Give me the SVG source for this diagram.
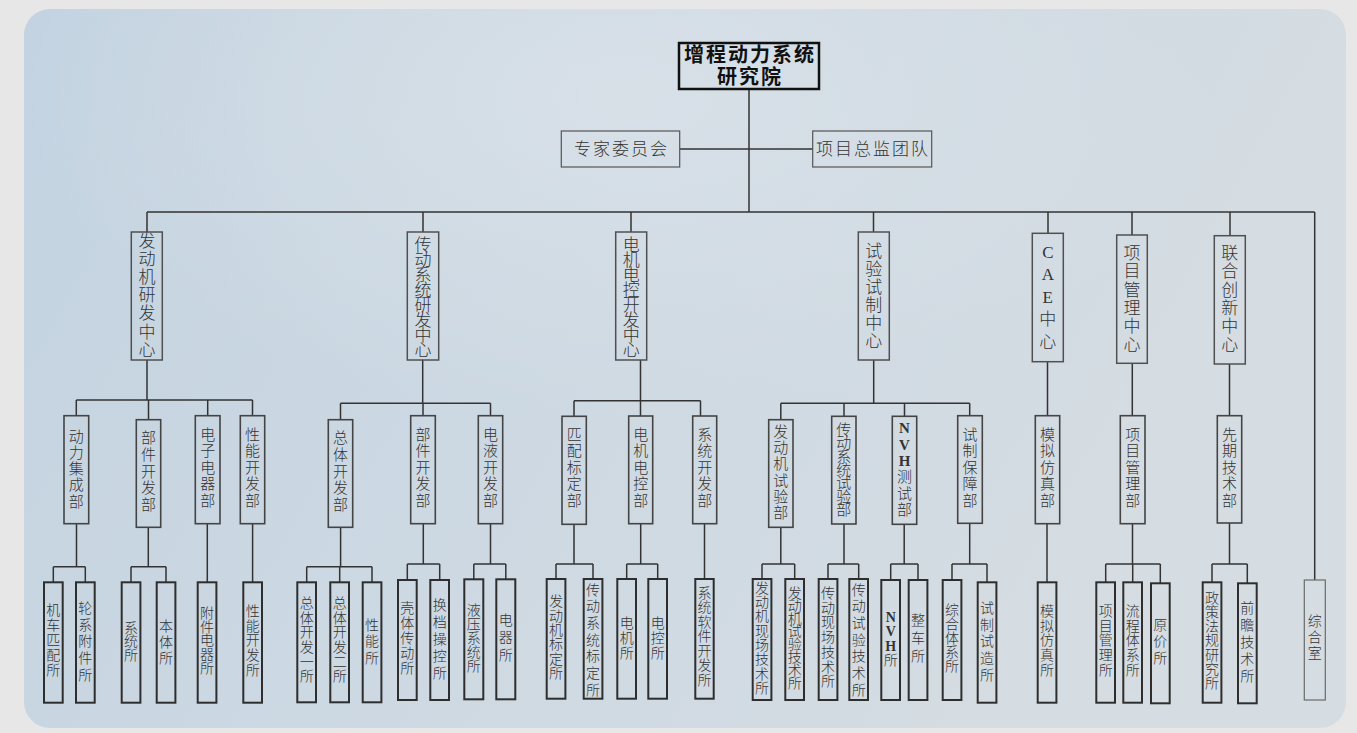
<svg xmlns="http://www.w3.org/2000/svg" width="1357" height="733" viewBox="0 0 1357 733">
<defs>
<linearGradient id="bg" x1="0" y1="0" x2="1" y2="0.3">
<stop offset="0" stop-color="#c3d3e1"/>
<stop offset="0.45" stop-color="#ccd8e2"/>
<stop offset="1" stop-color="#d6dde2"/>
</linearGradient>
<radialGradient id="glow" cx="0.45" cy="0.12" r="0.45">
<stop offset="0" stop-color="#dde4ea" stop-opacity="0.7"/>
<stop offset="1" stop-color="#dde4ea" stop-opacity="0"/>
</radialGradient>
<style>
text{font-family:"Liberation Serif","Noto Sans CJK SC",serif;fill:#333;text-anchor:middle;dominant-baseline:central;font-weight:300}
.t0{font-size:20px;font-weight:700;fill:#111;letter-spacing:2px}
.t1{font-size:17px}
.t2{font-size:15px}
.t3{font-size:14px}
.ts{font-size:17px;letter-spacing:2px}
.b{font-weight:700}
.r0{fill:none;stroke:#111;stroke-width:2.5}
.rs{fill:none;stroke:#555;stroke-width:1.2}
.r1{fill:none;stroke:#505050;stroke-width:1.5}
.r2{fill:none;stroke:#444;stroke-width:1.6}
.r3{fill:none;stroke:#2e2e2e;stroke-width:2}
.rt{fill:none;stroke:#6a6a6a;stroke-width:1.2}
.c{fill:none;stroke:#333;stroke-width:1.5}
</style>
</defs>
<rect width="1357" height="733" fill="#e8e7e7"/>
<rect x="24" y="9" width="1322" height="719" rx="26" fill="url(#bg)"/>
<rect x="24" y="9" width="1322" height="719" rx="26" fill="url(#glow)"/>

<g id="connectors" class="c">
<path d="M749 89V212M680 149H813M147 212H1314.7M147 212V232M423 212V232M631 212V232M873.5 212V232M1048 212V233.3M1132 212V235M1230 212V235.7M1314.7 212V580"/>
<path d="M147 360V400M76.3 400H252.5M76.3 400V415.7M148.5 400V419.7M207.7 400V415.7M252.5 400V415.7"/>
<path d="M422.7 360V403.3M340.5 403.3H490.5M340.5 403.3V419.7M423 403.3V415.7M490.5 403.3V415.7"/>
<path d="M640.5 360V400.7M574 400.7H700.5M574 400.7V416.3M640.5 400.7V416M700.5 400.7V416"/>
<path d="M873.7 360V403.3M780.8 403.3H969.7M780.8 403.3V419.7M844 403.3V416.3M904.5 403.3V416.3M969.7 403.3V415.7"/>
<path d="M1047.5 361.7V415.7M1132.3 363.3V415.7M1229.5 364V415.7"/>
<path d="M76.5 523.7V566.7M53.3 566.7H85.3M53.3 566.7V582.3M85.3 566.7V582.3"/>
<path d="M148.3 527.3V566.7M131 566.7H166M131 566.7V582.3M166 566.7V582.3"/>
<path d="M207.3 523.7V582.3M252.6 523.7V582.3"/>
<path d="M340.6 527.3V566.7M306.7 566.7H372M306.7 566.7V582.3M339.7 566.7V582.3M372 566.7V582.3"/>
<path d="M423.3 523.7V564M407.3 564H439.7M407.3 564V580M439.7 564V580"/>
<path d="M490.5 523.7V564M473.8 564H505.8M473.8 564V579.3M505.8 564V579.3"/>
<path d="M574 524.3V564M556 564H593M556 564V579M593 564V579"/>
<path d="M640.7 523.7V564M626.7 564H657.7M626.7 564V579M657.7 564V579"/>
<path d="M704.5 523.7V579"/>
<path d="M780.8 527.3V564M762 564H794.7M762 564V579M794.7 564V579"/>
<path d="M844 524V564M828 564H858.7M828 564V579M858.7 564V579"/>
<path d="M904.2 524.3V564M890.7 564H918M890.7 564V580M918 564V580"/>
<path d="M969.7 523.3V564M952 564H987M952 564V580M987 564V582.3"/>
<path d="M1047 523.7V582.3"/>
<path d="M1132.5 523.7V564M1105.7 564H1160.3M1105.7 564V582.3M1132.7 564V582.3M1160.3 564V583.3"/>
<path d="M1229.5 523V564M1212 564H1247.3M1212 564V582.3M1247.3 564V583.3"/>
</g>

<g id="n-root"><rect class="r0" x="679" y="43" width="140" height="46"/><text class="t0" x="750" y="55">增程动力系统</text><text class="t0" x="750" y="77">研究院</text></g>
<g id="n-expert"><rect class="rs" x="561.3" y="131" width="118.4" height="36"/><text class="ts" x="621.5" y="149">专家委员会</text></g>
<g id="n-pm"><rect class="rs" x="812.7" y="131" width="119" height="36"/><text class="ts" x="873" y="149">项目总监团队</text></g>

<g id="n-c1"><rect class="r1" x="131.3" y="232" width="31" height="128"/><text class="t1" x="147 147 147 147 147 147 147" y="241.7 259.8 277.8 295.9 313.9 332 350">发动机研发中心</text></g>
<g id="n-c2"><rect class="r1" x="407.3" y="232" width="31.4" height="128"/><text class="t1" x="423 423 423 423 423 423 423 423" y="245 260 275 290 305 320 335 350">传动系统研发中心</text></g>
<g id="n-c3"><rect class="r1" x="615.7" y="232" width="31" height="128"/><text class="t1" x="631.2 631.2 631.2 631.2 631.2 631.2 631.2 631.2" y="245 260 275 290 305 320 335 350">电机电控开发中心</text></g>
<g id="n-c4"><rect class="r1" x="858.3" y="232" width="31" height="128"/><text class="t1" x="873.8 873.8 873.8 873.8 873.8 873.8" y="251.7 269.7 287.7 305.7 323.7 341.7">试验试制中心</text></g>
<g id="n-c5"><rect class="r1" x="1032.3" y="233.3" width="31" height="128.4"/><text class="t1" x="1047.8 1047.8 1047.8 1047.8 1047.8" y="252 274.5 297 319.5 342">CAE中心</text></g>
<g id="n-c6"><rect class="r1" x="1116.7" y="235" width="30.6" height="128.3"/><text class="t1" x="1132 1132 1132 1132 1132 1132" y="253.3 271.7 290 308.4 326.7 345">项目管理中心</text></g>
<g id="n-c7"><rect class="r1" x="1214.3" y="235.7" width="31" height="128.3"/><text class="t1" x="1229.8 1229.8 1229.8 1229.8 1229.8 1229.8" y="253.3 271.7 290 308.4 326.7 345">联合创新中心</text></g>

<g id="n-d1"><rect class="r2" x="64" y="415.7" width="24.7" height="108"/><text class="t2" x="76.3 76.3 76.3 76.3 76.3" y="436.7 452.9 469.2 485.4 501.7">动力集成部</text></g>
<g id="n-d2"><rect class="r2" x="136.3" y="419.7" width="24.4" height="107.6"/><text class="t2" x="148.5 148.5 148.5 148.5 148.5" y="438.3 455 471.7 488.3 505">部件开发部</text></g>
<g id="n-d3"><rect class="r2" x="195.3" y="415.7" width="24.7" height="108"/><text class="t2" x="207.7 207.7 207.7 207.7 207.7" y="435 451.4 467.8 484.3 500.7">电子电器部</text></g>
<g id="n-d4"><rect class="r2" x="240.3" y="415.7" width="24.4" height="108"/><text class="t2" x="252.5 252.5 252.5 252.5 252.5" y="435 451.4 467.8 484.3 500.7">性能开发部</text></g>
<g id="n-d5"><rect class="r2" x="328.3" y="419.7" width="24.4" height="107.6"/><text class="t2" x="340.5 340.5 340.5 340.5 340.5" y="438.3 455 471.7 488.3 505">总体开发部</text></g>
<g id="n-d6"><rect class="r2" x="410.7" y="415.7" width="24.6" height="108"/><text class="t2" x="423 423 423 423 423" y="435 451.4 467.8 484.3 500.7">部件开发部</text></g>
<g id="n-d7"><rect class="r2" x="478.3" y="415.7" width="24.4" height="108"/><text class="t2" x="490.5 490.5 490.5 490.5 490.5" y="435 451.4 467.8 484.3 500.7">电液开发部</text></g>
<g id="n-d8"><rect class="r2" x="562" y="416.3" width="24.3" height="108"/><text class="t2" x="574.2 574.2 574.2 574.2 574.2" y="435 451.4 467.8 484.3 500.7">匹配标定部</text></g>
<g id="n-d9"><rect class="r2" x="628.7" y="416" width="24" height="107.7"/><text class="t2" x="640.7 640.7 640.7 640.7 640.7" y="435 451.4 467.8 484.3 500.7">电机电控部</text></g>
<g id="n-d10"><rect class="r2" x="692.7" y="416" width="24" height="107.7"/><text class="t2" x="704.7 704.7 704.7 704.7 704.7" y="435 451.4 467.8 484.3 500.7">系统开发部</text></g>
<g id="n-d11"><rect class="r2" x="768.7" y="419.7" width="24.3" height="107.6"/><text class="t2" x="780.8 780.8 780.8 780.8 780.8 780.8" y="431.7 448 464.3 480.6 497 513.3">发动机试验部</text></g>
<g id="n-d12"><rect class="r2" x="831.7" y="416.3" width="24.3" height="107.7"/><text class="t2" x="843.8 843.8 843.8 843.8 843.8 843.8 843.8" y="430 443.3 456.7 470 483.3 496.7 510">传动系统试验部</text></g>
<g id="n-d13"><rect class="r2" x="892.3" y="416.3" width="24.4" height="108"/><text class="t2" x="904.5 904.5 904.5 904.5 904.5 904.5" y="428.3 444.6 461 477.3 493.7 510"><tspan class="b">NVH</tspan>测试部</text></g>
<g id="n-d14"><rect class="r2" x="957.7" y="415.7" width="24.6" height="107.6"/><text class="t2" x="970 970 970 970 970" y="435 451.4 467.8 484.3 500.7">试制保障部</text></g>
<g id="n-d15"><rect class="r2" x="1035.3" y="415.7" width="24.4" height="108"/><text class="t2" x="1047.5 1047.5 1047.5 1047.5 1047.5" y="435 451.4 467.8 484.3 500.7">模拟仿真部</text></g>
<g id="n-d16"><rect class="r2" x="1120.3" y="415.7" width="24.7" height="108"/><text class="t2" x="1132.7 1132.7 1132.7 1132.7 1132.7" y="435 451.4 467.8 484.3 500.7">项目管理部</text></g>
<g id="n-d17"><rect class="r2" x="1217.3" y="415.7" width="24.4" height="107.3"/><text class="t2" x="1229.5 1229.5 1229.5 1229.5 1229.5" y="435 451.4 467.8 484.3 500.7">先期技术部</text></g>

<g id="n-s1"><rect class="r3" x="44" y="582.3" width="18.7" height="120.4"/><text class="t3" x="53.3 53.3 53.3 53.3 53.3" y="610 625 640 655 670">机车匹配所</text></g>
<g id="n-s2"><rect class="r3" x="76" y="582.3" width="18.7" height="120.4"/><text class="t3" x="85.3 85.3 85.3 85.3 85.3" y="608.3 625 641.7 658.3 675">轮系附件所</text></g>
<g id="n-s3"><rect class="r3" x="121.7" y="582.3" width="18.7" height="120.4"/><text class="t3" x="131 131 131" y="628.3 641.7 655">系统所</text></g>
<g id="n-s4"><rect class="r3" x="156.7" y="582.3" width="18.7" height="120.4"/><text class="t3" x="166 166 166" y="626.7 642.5 658.3">本体所</text></g>
<g id="n-s5"><rect class="r3" x="197.7" y="582.3" width="18.7" height="120.4"/><text class="t3" x="207 207 207 207 207" y="613.3 627 640.8 654.5 668.3">附件电器所</text></g>
<g id="n-s6"><rect class="r3" x="243.3" y="582.3" width="18.7" height="120.4"/><text class="t3" x="252.7 252.7 252.7 252.7 252.7" y="611.7 626.3 640.8 655.4 670">性能开发所</text></g>
<g id="n-s7"><rect class="r3" x="297.3" y="582.3" width="18.7" height="120"/><text class="t3" x="306.7 306.7 306.7 306.7 306.7 306.7" y="603.3 618 632.7 647.3 662 676.7">总体开发一所</text></g>
<g id="n-s8"><rect class="r3" x="330.3" y="582.3" width="18.7" height="120"/><text class="t3" x="339.7 339.7 339.7 339.7 339.7 339.7" y="603.3 618 632.7 647.3 662 676.7">总体开发二所</text></g>
<g id="n-s9"><rect class="r3" x="362.7" y="582.3" width="18.7" height="120"/><text class="t3" x="372 372 372" y="625 641.7 658.3">性能所</text></g>
<g id="n-s10"><rect class="r3" x="398" y="580" width="18.7" height="120"/><text class="t3" x="407.3 407.3 407.3 407.3 407.3" y="608.3 623.3 638.3 653.3 668.3">壳体传动所</text></g>
<g id="n-s11"><rect class="r3" x="430.3" y="580" width="18.7" height="120"/><text class="t3" x="439.7 439.7 439.7 439.7 439.7" y="605 622.1 639.2 656.2 673.3">换档操控所</text></g>
<g id="n-s12"><rect class="r3" x="464.3" y="579.3" width="19" height="120"/><text class="t3" x="473.8 473.8 473.8 473.8 473.8" y="610 624.2 638.3 652.5 666.7">液压系统所</text></g>
<g id="n-s13"><rect class="r3" x="496.3" y="579.3" width="19" height="120"/><text class="t3" x="505.8 505.8 505.8" y="620 637.5 655">电器所</text></g>
<g id="n-s14"><rect class="r3" x="546.7" y="579" width="18.7" height="119.7"/><text class="t3" x="556 556 556 556 556 556" y="601.7 616 630.3 644.7 659 673.3">发动机标定所</text></g>
<g id="n-s15"><rect class="r3" x="583.7" y="579" width="18.7" height="119.7"/><text class="t3" x="593 593 593 593 593 593 593" y="590 606.7 623.3 640 656.7 673.3 690">传动系统标定所</text></g>
<g id="n-s16"><rect class="r3" x="617.3" y="579" width="18.7" height="119.7"/><text class="t3" x="626.7 626.7 626.7" y="623.3 638.3 653.3">电机所</text></g>
<g id="n-s17"><rect class="r3" x="648.3" y="579" width="18.7" height="119.7"/><text class="t3" x="657.7 657.7 657.7" y="623.3 638.3 653.3">电控所</text></g>
<g id="n-s18"><rect class="r3" x="695.3" y="579" width="18.4" height="119.7"/><text class="t3" x="704.5 704.5 704.5 704.5 704.5 704.5 704.5" y="593.3 607.8 622.2 636.7 651.1 665.6 680">系统软件开发所</text></g>
<g id="n-s19"><rect class="r3" x="752.7" y="579" width="18.7" height="121"/><text class="t3" x="762 762 762 762 762 762 762 762" y="588.3 602.6 616.9 631.2 645.4 659.7 674 688.3">发动机现场技术所</text></g>
<g id="n-s20"><rect class="r3" x="785.3" y="579" width="18.7" height="121"/><text class="t3" x="794.7 794.7 794.7 794.7 794.7 794.7 794.7 794.7" y="593.3 606.2 619 631.9 644.7 657.6 670.4 683.3">发动机试验技术所</text></g>
<g id="n-s21"><rect class="r3" x="818.7" y="579" width="18.7" height="121"/><text class="t3" x="828 828 828 828 828 828 828" y="593.3 608 622.8 637.5 652.2 667 681.7">传动现场技术所</text></g>
<g id="n-s22"><rect class="r3" x="849.3" y="579" width="18.7" height="121"/><text class="t3" x="858.7 858.7 858.7 858.7 858.7 858.7 858.7" y="590 606.7 623.3 640 656.7 673.3 690">传动试验技术所</text></g>
<g id="n-s23"><rect class="r3" x="881.3" y="580" width="18.7" height="120"/><text class="t3" x="890.7 890.7 890.7 890.7" y="616.7 631.1 645.6 660"><tspan class="b">NVH</tspan>所</text></g>
<g id="n-s24"><rect class="r3" x="908.7" y="580" width="18.7" height="120"/><text class="t3" x="918 918 918" y="620 638.3 656.7">整车所</text></g>
<g id="n-s25"><rect class="r3" x="942.7" y="580" width="18.7" height="120"/><text class="t3" x="952 952 952 952 952" y="610 624.2 638.3 652.5 666.7">综合体系所</text></g>
<g id="n-s26"><rect class="r3" x="977.7" y="582.3" width="18.7" height="120.4"/><text class="t3" x="987 987 987 987 987" y="608.3 625 641.7 658.3 675">试制试造所</text></g>
<g id="n-s27"><rect class="r3" x="1037.7" y="582.3" width="18.7" height="120.4"/><text class="t3" x="1047 1047 1047 1047 1047" y="611.7 626.3 640.8 655.4 670">模拟仿真所</text></g>
<g id="n-s28"><rect class="r3" x="1096.3" y="582.3" width="18.7" height="120.4"/><text class="t3" x="1105.7 1105.7 1105.7 1105.7 1105.7" y="611.7 626.3 640.8 655.4 670">项目管理所</text></g>
<g id="n-s29"><rect class="r3" x="1123.3" y="582.3" width="18.7" height="120.4"/><text class="t3" x="1132.7 1132.7 1132.7 1132.7 1132.7" y="611.7 626.3 640.8 655.4 670">流程体系所</text></g>
<g id="n-s30"><rect class="r3" x="1151" y="583.3" width="18.7" height="120"/><text class="t3" x="1160.3 1160.3 1160.3" y="625 641.7 658.3">原价所</text></g>
<g id="n-s31"><rect class="r3" x="1202.7" y="582.3" width="18.7" height="120.4"/><text class="t3" x="1212 1212 1212 1212 1212 1212 1212" y="598.3 612.5 626.7 640.8 655 669.2 683.3">政策法规研究所</text></g>
<g id="n-s32"><rect class="r3" x="1238" y="583.3" width="18.7" height="120"/><text class="t3" x="1247.3 1247.3 1247.3 1247.3 1247.3" y="608.3 625.4 642.5 659.6 676.7">前瞻技术所</text></g>
<g id="n-s33"><rect class="rt" x="1304.3" y="580" width="21" height="120"/><text class="t3" x="1314.8 1314.8 1314.8" y="621.7 637.5 653.3">综合室</text></g>
</svg>
